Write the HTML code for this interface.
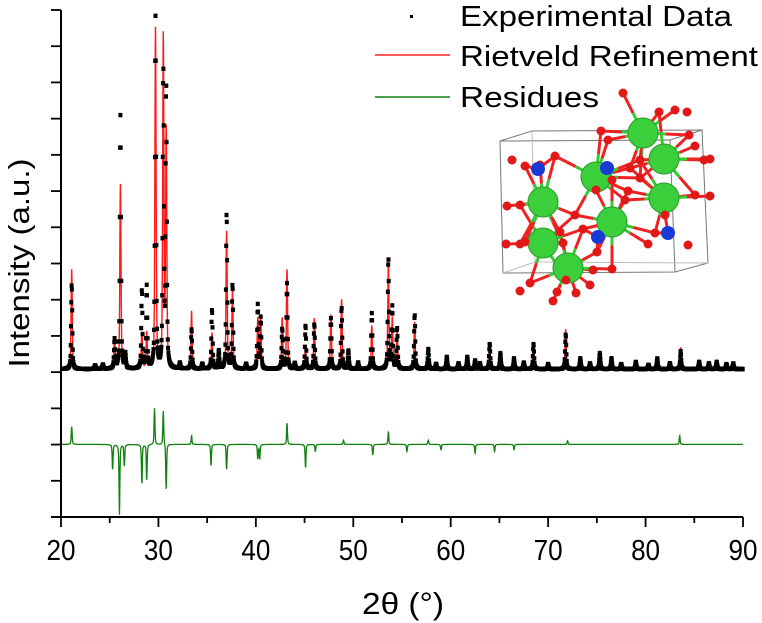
<!DOCTYPE html>
<html><head><meta charset="utf-8"><style>
html,body{margin:0;padding:0;background:#fff;}
svg{display:block;font-family:"Liberation Sans",Arial,sans-serif;}
</style></head><body>
<svg id="chart" width="762" height="623" viewBox="0 0 762 623">
<g id="plot"></g>
<g id="axes"></g>
<g id="inset"></g>
<g id="legend">
  <rect x="410" y="15" width="3" height="3" fill="#000"/>
  <text x="460" y="26" font-size="29" textLength="272" lengthAdjust="spacingAndGlyphs">Experimental Data</text>
  <line x1="375" y1="55" x2="450" y2="55" stroke="#ff2020" stroke-width="1.5"/>
  <text x="460" y="66" font-size="29" textLength="298" lengthAdjust="spacingAndGlyphs">Rietveld Refinement</text>
  <line x1="375" y1="97" x2="450" y2="97" stroke="#108010" stroke-width="1.5"/>
  <text x="460" y="107" font-size="29" textLength="139" lengthAdjust="spacingAndGlyphs">Residues</text>
</g>
<text x="19" y="263" font-size="29" text-anchor="middle" transform="rotate(-90 19 263)" dy="10" textLength="209" lengthAdjust="spacingAndGlyphs">Intensity (a.u.)</text>
<text x="403" y="614" font-size="31" text-anchor="middle" textLength="82" lengthAdjust="spacingAndGlyphs">2θ (°)</text>
</svg>
<script>
// Peak positions (deg), experimental heights, calculated heights
const peakPos  = [21.1,25.5,26.1,26.6,28.3,28.8,29.7,30.5,30.8,33.4,35.5,36.2,37.0,37.6,40.2,40.5,42.7,43.2,45.1,46.0,47.7,48.8,49.5,51.9,53.6,54.0,54.5,56.3,57.7,59.6,61.7,62.5,64.0,65.1,66.5,68.5,71.8,73.3,75.3,76.5,79.0,81.2,83.6,85.5,87.3,89.0,23.5,24.3,32.2,34.5,39.0,44.0,50.5,58.5,60.8,63.0,67.5,70.0,74.3,77.5,80.3,82.5,86.5,88.3];
const expHt    = [1.17,0.40,3.50,0.20,1.08,1.13,4.85,4.08,3.86,0.55,0.82,0.25,2.15,1.16,0.88,0.70,0.55,1.18,0.60,0.62,0.70,0.85,0.25,0.77,1.52,0.85,0.56,0.75,0.28,0.17,0.17,0.12,0.35,0.22,0.15,0.35,0.48,0.15,0.22,0.15,0.10,0.15,0.25,0.10,0.10,0.08,0.05,0.06,0.08,0.07,0.07,0.08,0.09,0.07,0.08,0.08,0.09,0.07,0.08,0.07,0.06,0.08,0.08,0.07];
const calcHt   = [1.38,0.40,2.55,0.20,0.50,0.50,4.70,4.56,3.25,0.80,0.50,0.25,1.90,1.08,0.70,0.70,0.70,1.37,0.30,0.70,0.75,0.96,0.25,0.60,1.47,0.70,0.56,0.65,0.28,0.17,0.17,0.12,0.30,0.22,0.15,0.30,0.55,0.15,0.25,0.15,0.10,0.15,0.30,0.10,0.10,0.08,0.05,0.06,0.08,0.07,0.07,0.08,0.09,0.07,0.08,0.08,0.09,0.07,0.08,0.07,0.06,0.08,0.08,0.07];
// Residue features (deg, value)
const resPos   = [21.1,25.3,26.0,26.5,28.3,28.8,29.6,30.5,30.8,33.4,35.4,37.0,40.2,40.4,43.2,45.1,46.1,49.0,52.0,53.6,55.5,57.7,59.0,62.5,64.5,66.5,72.0,83.5];
const resVal   = [0.25,-0.35,-0.97,-0.30,-0.55,-0.50,0.50,0.47,-0.62,0.12,-0.30,-0.35,-0.20,-0.20,0.30,-0.33,-0.10,0.06,-0.15,0.18,-0.10,0.06,-0.08,-0.12,-0.10,-0.08,0.05,0.12];
const xTicks   = [20,30,40,50,60,70,80,90];
const bgLevel  = 0.04;
const resOffset = -1;

const NS="http://www.w3.org/2000/svg";
const X0=61,X1=743,YT=10,YB=517;
const xs=d=>X0+(d-20)*(X1-X0)/70;
const ys=v=>372-v*72.4;
function el(tag,attrs,parent){const e=document.createElementNS(NS,tag);for(const k in attrs)e.setAttribute(k,attrs[k]);parent.appendChild(e);return e;}
const plot=document.getElementById('plot'), axes=document.getElementById('axes');
function prof(d,pos,ht,w){let s=0;for(let i=0;i<pos.length;i++){const t=(d-pos[i])/w;s+=ht[i]/(1+t*t)*0.4+ht[i]*Math.exp(-t*t)*0.6;}return s;}
// calc line
let pts=[];
for(let d=20;d<=90.001;d+=0.02){pts.push(xs(d).toFixed(1)+','+ys(bgLevel+prof(d,peakPos,calcHt,0.08)).toFixed(1));}
const calcLine=el('polyline',{points:pts.join(' '),fill:'none',stroke:'#ff1a1a','stroke-width':1.4},plot);


// exp dots
const expG=el('g',{fill:'#000'},plot);


for(let d=20.1;d<=90;d+=0.03){
  const v=bgLevel+prof(d,peakPos,expHt,0.08);
  const r=el('rect',{x:(xs(d)-2).toFixed(1),y:(ys(v)-2.2).toFixed(1),width:4,height:4.4},expG);
  
  
}
// residues
pts=[];
for(let d=20;d<=90.001;d+=0.03){pts.push(xs(d).toFixed(1)+','+ys(resOffset+prof(d,resPos,resVal,0.06)).toFixed(1));}
const resLine=el('polyline',{points:pts.join(' '),fill:'none',stroke:'#108010','stroke-width':1.3},plot);


// axes
const ya=el('line',{x1:X0,y1:YT,x2:X0,y2:YB,stroke:'#000','stroke-width':2},axes);


const xa=el('line',{x1:X0-10,y1:YB,x2:X1,y2:YB,stroke:'#000','stroke-width':2},axes);


for(let i=0;i<=14;i++){const y=YT+i*(YB-YT)/14;const t=el('line',{x1:X0-10,y1:y,x2:X0,y2:y,stroke:'#000','stroke-width':1.8},axes);

}
for(let d=20;d<=90;d+=5){const major=d%10===0;const t=el('line',{x1:xs(d),y1:YB,x2:xs(d),y2:YB+(major?10:6),stroke:'#000','stroke-width':1.8},axes);

}
xTicks.forEach(v=>{const t=el('text',{x:xs(v),y:560,'font-size':29,'text-anchor':'middle',textLength:29,lengthAdjust:'spacingAndGlyphs'},axes);t.textContent=v;

});
// inset
const inset=document.getElementById('inset');
const box='stroke:#777;fill:none;stroke-width:1';
el('polygon',{points:'532,131 702,130 708,263 675,272 503,273 500,141',style:box},inset);
el('polyline',{points:'500,141 670,140 675,272',style:box},inset);
el('polyline',{points:'670,140 702,130',style:box},inset);
el('polyline',{points:'532,131 535,262 503,273',style:'stroke:#bbb;fill:none'},inset);
el('polyline',{points:'535,262 708,263',style:'stroke:#bbb;fill:none'},inset);
const green=[[643,133],[664,159],[596,177],[543,202],[664,198],[612,222],[543,243],[568,268]];
const blue=[[607,168],[538,169],[668,233],[598,237]];
const red=[[623,93],[659,112],[675,110],[687,112],[689,135],[695,146],[601,131],[608,140],[512,160],[525,166],[540,165],[555,156],[520,205],[507,206],[630,168],[640,178],[665,215],[704,160],[710,159],[695,195],[710,196],[648,244],[688,245],[655,233],[506,244],[520,244],[525,242],[563,243],[597,252],[566,280],[593,270],[612,269],[557,292],[520,291],[530,283],[553,301],[576,293],[590,285],[596,190],[612,180],[628,191],[560,232],[583,229],[575,215],[625,200],[640,160]];
function bond(g,p){const mx=(p[0]+g[0])/2,my=(p[1]+g[1])/2;
el('line',{x1:g[0],y1:g[1],x2:mx,y2:my,stroke:'#3c3','stroke-width':3},inset);
el('line',{x1:mx,y1:my,x2:p[0],y2:p[1],stroke:'#e22','stroke-width':3},inset);}
red.forEach(p=>{green.forEach(g=>{const dd=Math.hypot(g[0]-p[0],g[1]-p[1]);if(dd<48)bond(g,p);});});
blue.forEach(b=>red.forEach(p=>{const dd=(b[0]-p[0])**2+(b[1]-p[1])**2;if(dd<500)el('line',{x1:b[0],y1:b[1],x2:p[0],y2:p[1],stroke:'#e22','stroke-width':3},inset);}));
green.forEach(p=>el('circle',{cx:p[0],cy:p[1],r:15,fill:'#3ccf3c',stroke:'#2a9a2a','stroke-width':1},inset));
red.forEach(p=>el('circle',{cx:p[0],cy:p[1],r:4.5,fill:'#e01818'},inset));
blue.forEach(p=>el('circle',{cx:p[0],cy:p[1],r:7,fill:'#1a3ad8'},inset));
</script>
</body></html>
